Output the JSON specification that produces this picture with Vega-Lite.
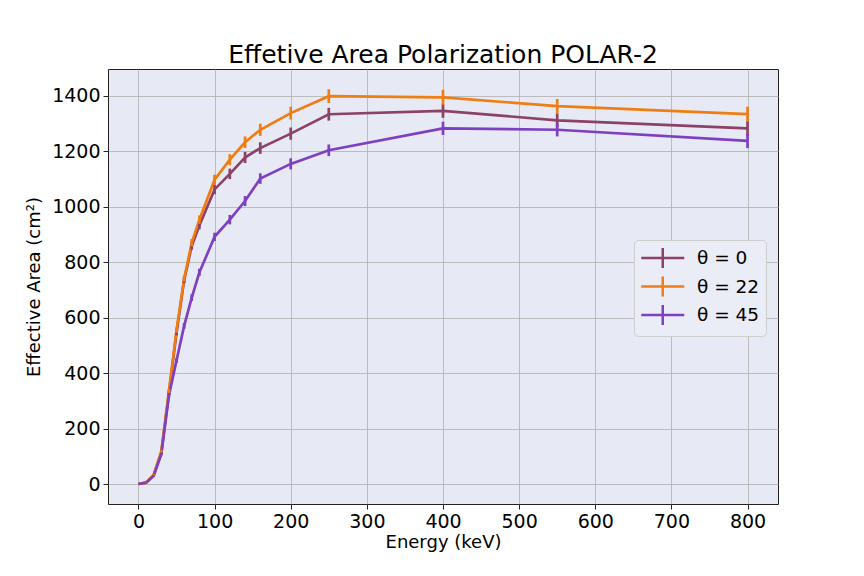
{
  "$schema": "https://vega.github.io/schema/vega-lite/v6.json",
  "width": 670,
  "height": 435,
  "autosize": "none",
  "padding": {"left": 108, "top": 69, "right": 86, "bottom": 72},
  "background": "white",
  "title": {
    "text": "Effetive Area Polarization POLAR-2",
    "fontSize": 25,
    "fontWeight": "normal",
    "color": "black",
    "anchor": "middle",
    "offset": 1
  },
  "data": {
    "values": [
      {"E": 0, "s": "θ = 0", "A": 0, "err": 0},
      {"E": 10, "s": "θ = 0", "A": 5, "err": 1},
      {"E": 20, "s": "θ = 0", "A": 32, "err": 2},
      {"E": 30, "s": "θ = 0", "A": 112, "err": 4},
      {"E": 40, "s": "θ = 0", "A": 328, "err": 7},
      {"E": 50, "s": "θ = 0", "A": 545, "err": 9},
      {"E": 60, "s": "θ = 0", "A": 735, "err": 11},
      {"E": 70, "s": "θ = 0", "A": 858, "err": 13},
      {"E": 80, "s": "θ = 0", "A": 932, "err": 14},
      {"E": 100, "s": "θ = 0", "A": 1062, "err": 17},
      {"E": 120, "s": "θ = 0", "A": 1118, "err": 19},
      {"E": 140, "s": "θ = 0", "A": 1177, "err": 20},
      {"E": 160, "s": "θ = 0", "A": 1211, "err": 21},
      {"E": 200, "s": "θ = 0", "A": 1263, "err": 22},
      {"E": 250, "s": "θ = 0", "A": 1333, "err": 23},
      {"E": 400, "s": "θ = 0", "A": 1345, "err": 25},
      {"E": 550, "s": "θ = 0", "A": 1311, "err": 25},
      {"E": 800, "s": "θ = 0", "A": 1282, "err": 27},
      {"E": 0, "s": "θ = 22", "A": 0, "err": 0},
      {"E": 10, "s": "θ = 22", "A": 5, "err": 1},
      {"E": 20, "s": "θ = 22", "A": 34, "err": 2},
      {"E": 30, "s": "θ = 22", "A": 118, "err": 4},
      {"E": 40, "s": "θ = 22", "A": 335, "err": 7},
      {"E": 50, "s": "θ = 22", "A": 555, "err": 10},
      {"E": 60, "s": "θ = 22", "A": 740, "err": 11},
      {"E": 70, "s": "θ = 22", "A": 870, "err": 13},
      {"E": 80, "s": "θ = 22", "A": 953, "err": 15},
      {"E": 100, "s": "θ = 22", "A": 1097, "err": 18},
      {"E": 120, "s": "θ = 22", "A": 1169, "err": 20},
      {"E": 140, "s": "θ = 22", "A": 1232, "err": 21},
      {"E": 160, "s": "θ = 22", "A": 1277, "err": 22},
      {"E": 200, "s": "θ = 22", "A": 1337, "err": 23},
      {"E": 250, "s": "θ = 22", "A": 1398, "err": 25},
      {"E": 400, "s": "θ = 22", "A": 1394, "err": 27},
      {"E": 550, "s": "θ = 22", "A": 1362, "err": 26},
      {"E": 800, "s": "θ = 22", "A": 1333, "err": 27},
      {"E": 0, "s": "θ = 45", "A": 0, "err": 0},
      {"E": 10, "s": "θ = 45", "A": 5, "err": 1},
      {"E": 20, "s": "θ = 45", "A": 30, "err": 2},
      {"E": 30, "s": "θ = 45", "A": 108, "err": 4},
      {"E": 40, "s": "θ = 45", "A": 318, "err": 6},
      {"E": 50, "s": "θ = 45", "A": 445, "err": 8},
      {"E": 60, "s": "θ = 45", "A": 570, "err": 10},
      {"E": 70, "s": "θ = 45", "A": 672, "err": 12},
      {"E": 80, "s": "θ = 45", "A": 763, "err": 13},
      {"E": 100, "s": "θ = 45", "A": 891, "err": 15},
      {"E": 120, "s": "θ = 45", "A": 953, "err": 17},
      {"E": 140, "s": "θ = 45", "A": 1020, "err": 18},
      {"E": 160, "s": "θ = 45", "A": 1101, "err": 19},
      {"E": 200, "s": "θ = 45", "A": 1154, "err": 20},
      {"E": 250, "s": "θ = 45", "A": 1203, "err": 21},
      {"E": 400, "s": "θ = 45", "A": 1282, "err": 24},
      {"E": 550, "s": "θ = 45", "A": 1277, "err": 24},
      {"E": 800, "s": "θ = 45", "A": 1237, "err": 26}
    ]
  },
  "encoding": {
    "x": {
      "field": "E",
      "type": "quantitative",
      "title": "Energy (keV)",
      "scale": {"domain": [-40, 840], "nice": false, "zero": false},
      "axis": {"values": [0, 100, 200, 300, 400, 500, 600, 700, 800], "format": "d", "titlePadding": 2}
    },
    "y": {
      "field": "A",
      "type": "quantitative",
      "title": "Effective Area (cm²)",
      "scale": {"domain": [-72, 1496], "nice": false, "zero": false},
      "axis": {"values": [0, 200, 400, 600, 800, 1000, 1200, 1400], "format": "d", "titlePadding": 8}
    },
    "color": {
      "field": "s",
      "type": "nominal",
      "sort": ["θ = 0", "θ = 22", "θ = 45"],
      "scale": {"domain": ["θ = 0", "θ = 22", "θ = 45"], "range": ["#8c4266", "#ef7d13", "#7e40c2"]},
      "legend": {
        "title": null,
        "orient": "none",
        "legendX": 526,
        "legendY": 171,
        "symbolType": "M-1,0H3M1,-0.93V0.93",
        "symbolSize": 462,
        "symbolStrokeWidth": 2.5,
        "symbolFillColor": "transparent",
        "labelOffset": 33,
        "labelFontSize": 18.5,
        "labelColor": "black",
        "rowPadding": -1.5,
        "padding": 6,
        "fillColor": "#eaecf6",
        "strokeColor": "#cfcfcf",
        "cornerRadius": 4
      }
    }
  },
  "layer": [
    {"mark": {"type": "line", "strokeWidth": 2.7}},
    {
      "mark": {"type": "errorbar", "ticks": false, "thickness": 2.7},
      "encoding": {"yError": {"field": "err"}}
    }
  ],
  "config": {
    "font": "DejaVu Sans",
    "view": {"fill": "#e7eaf5", "stroke": "#222222", "strokeWidth": 1},
    "axis": {
      "domain": false,
      "grid": true,
      "gridColor": "#b0b0b0",
      "gridWidth": 0.8,
      "tickColor": "#222222",
      "tickSize": 5,
      "labelPadding": 3,
      "labelFontSize": 19,
      "labelColor": "black",
      "titleFontSize": 18,
      "titleFontWeight": "normal",
      "titleColor": "black"
    }
  }
}
